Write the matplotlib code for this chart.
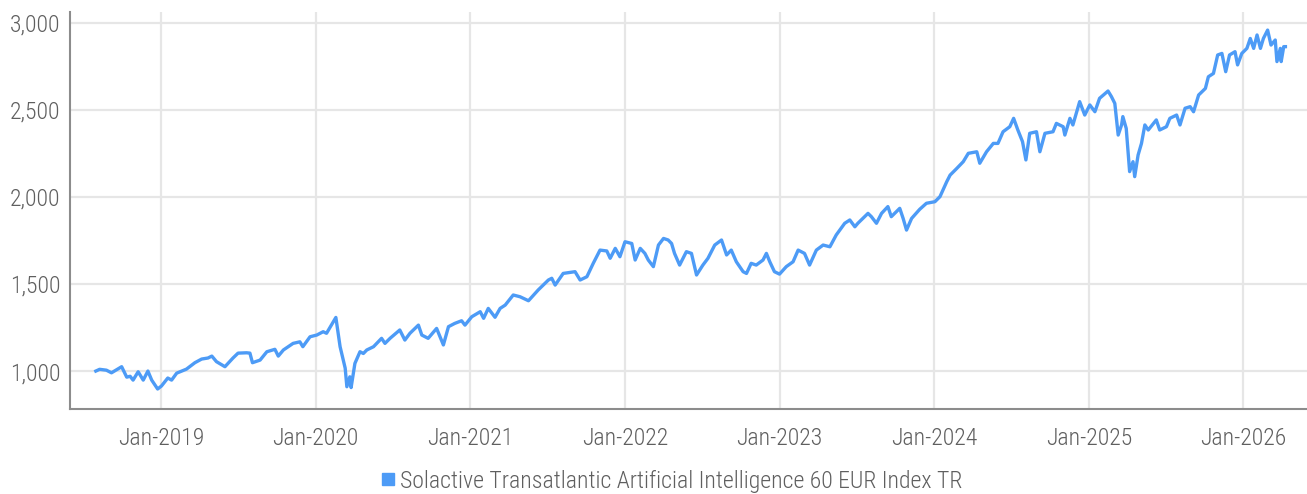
import matplotlib
matplotlib.use("Agg")
import matplotlib.pyplot as plt
from matplotlib.lines import Line2D
from matplotlib import font_manager
import pandas as pd

dates = [
    "2018-07-31", "2018-08-09", "2018-08-25", "2018-09-06", "2018-09-30", "2018-10-12",
    "2018-10-20", "2018-10-27", "2018-11-08", "2018-11-20", "2018-12-01", "2018-12-10",
    "2018-12-24", "2019-01-02", "2019-01-17", "2019-01-26", "2019-02-07", "2019-03-02",
    "2019-03-22", "2019-04-07", "2019-04-22", "2019-05-01", "2019-05-12", "2019-06-01",
    "2019-06-20", "2019-07-02", "2019-07-22", "2019-07-30", "2019-08-05", "2019-08-23",
    "2019-09-08", "2019-09-27", "2019-10-05", "2019-10-17", "2019-11-09", "2019-11-25",
    "2019-12-02", "2019-12-19", "2020-01-04", "2020-01-19", "2020-01-27", "2020-02-04",
    "2020-02-18", "2020-02-28", "2020-03-11", "2020-03-15", "2020-03-22", "2020-03-25",
    "2020-04-03", "2020-04-15", "2020-04-23", "2020-05-01", "2020-05-17", "2020-06-05",
    "2020-06-13", "2020-06-25", "2020-07-18", "2020-07-30", "2020-08-11", "2020-08-31",
    "2020-09-08", "2020-09-23", "2020-10-13", "2020-10-29", "2020-11-10", "2020-11-25",
    "2020-12-11", "2020-12-19", "2021-01-04", "2021-01-24", "2021-02-01", "2021-02-12",
    "2021-02-28", "2021-03-12", "2021-03-24", "2021-04-12", "2021-04-28", "2021-05-18",
    "2021-06-10", "2021-07-04", "2021-07-12", "2021-07-20", "2021-08-08", "2021-09-05",
    "2021-09-17", "2021-10-03", "2021-10-18", "2021-11-03", "2021-11-19", "2021-11-27",
    "2021-12-09", "2021-12-20", "2022-01-01", "2022-01-17", "2022-01-25", "2022-02-06",
    "2022-02-17", "2022-02-25", "2022-03-09", "2022-03-21", "2022-04-02", "2022-04-13",
    "2022-04-21", "2022-04-28", "2022-05-10", "2022-05-26", "2022-06-07", "2022-06-19",
    "2022-07-04", "2022-07-16", "2022-08-01", "2022-08-17", "2022-08-29", "2022-09-09",
    "2022-09-21", "2022-10-07", "2022-10-15", "2022-10-26", "2022-11-07", "2022-11-23",
    "2022-12-01", "2022-12-09", "2022-12-20", "2023-01-01", "2023-01-17", "2023-02-02",
    "2023-02-14", "2023-03-01", "2023-03-13", "2023-03-29", "2023-04-14", "2023-04-30",
    "2023-05-15", "2023-06-04", "2023-06-16", "2023-06-28", "2023-07-05", "2023-07-29",
    "2023-08-06", "2023-08-18", "2023-08-30", "2023-09-14", "2023-09-22", "2023-10-12",
    "2023-10-20", "2023-10-28", "2023-11-09", "2023-11-28", "2023-12-14", "2024-01-03",
    "2024-01-15", "2024-01-31", "2024-02-08", "2024-02-24", "2024-03-10", "2024-03-22",
    "2024-04-11", "2024-04-18", "2024-05-04", "2024-05-20", "2024-05-31", "2024-06-12",
    "2024-06-28", "2024-07-07", "2024-07-17", "2024-07-28", "2024-08-05", "2024-08-14",
    "2024-08-30", "2024-09-07", "2024-09-19", "2024-10-08", "2024-10-16", "2024-11-01",
    "2024-11-05", "2024-11-17", "2024-11-24", "2024-12-10", "2024-12-22", "2025-01-03",
    "2025-01-15", "2025-01-26", "2025-02-15", "2025-02-23", "2025-03-03", "2025-03-11",
    "2025-03-19", "2025-03-22", "2025-03-30", "2025-04-07", "2025-04-15", "2025-04-19",
    "2025-04-27", "2025-05-05", "2025-05-13", "2025-05-21", "2025-06-09", "2025-06-17",
    "2025-07-03", "2025-07-11", "2025-07-27", "2025-08-04", "2025-08-16", "2025-08-28",
    "2025-09-05", "2025-09-17", "2025-10-03", "2025-10-10", "2025-10-22", "2025-11-01",
    "2025-11-11", "2025-11-20", "2025-11-29", "2025-12-12", "2025-12-18", "2025-12-28",
    "2026-01-09", "2026-01-17", "2026-01-25", "2026-02-02", "2026-02-10", "2026-02-17",
    "2026-02-27", "2026-03-07", "2026-03-17", "2026-03-21", "2026-03-29", "2026-03-31",
    "2026-04-06", "2026-04-10",
]
values = [
    1000, 1010, 1005, 990, 1025, 965,
    970, 948, 996, 948, 1000, 948,
    897, 914, 960, 948, 988, 1011,
    1048, 1069, 1075, 1086, 1054, 1025,
    1075, 1103, 1105, 1103, 1048, 1063,
    1111, 1125, 1086, 1121, 1159, 1168,
    1140, 1197, 1207, 1226, 1217, 1250,
    1308, 1140, 1017, 910, 967, 905,
    1044, 1111, 1101, 1121, 1140, 1188,
    1159, 1188, 1236, 1178, 1217, 1264,
    1207, 1188, 1245, 1150, 1255, 1274,
    1289, 1264, 1312, 1341, 1303, 1360,
    1309, 1360, 1379, 1437, 1427, 1404,
    1466, 1523, 1533, 1494, 1561, 1571,
    1523, 1542, 1619, 1695, 1690, 1648,
    1705, 1657, 1743, 1733, 1638, 1705,
    1676, 1638, 1600, 1724, 1762, 1753,
    1733, 1676, 1609, 1686, 1676, 1552,
    1609, 1648, 1724, 1753, 1667, 1695,
    1628, 1571, 1561, 1619, 1609, 1638,
    1676, 1628, 1571, 1557, 1600, 1628,
    1695, 1676, 1609, 1695, 1724, 1714,
    1782, 1849, 1868, 1829, 1849, 1906,
    1887, 1849, 1906, 1945, 1887, 1935,
    1877, 1810, 1877, 1929, 1964, 1973,
    2002, 2088, 2126, 2165, 2203, 2251,
    2260, 2194, 2260, 2308, 2308, 2375,
    2404, 2452, 2385, 2318, 2213, 2366,
    2375, 2260, 2366, 2375, 2423, 2404,
    2356, 2452, 2414, 2548, 2471, 2529,
    2490, 2567, 2609, 2577, 2538, 2356,
    2414, 2462, 2394, 2146, 2203, 2117,
    2241, 2308, 2414, 2385, 2443, 2385,
    2404, 2452, 2471, 2414, 2510, 2519,
    2490, 2586, 2624, 2691, 2710, 2816,
    2825, 2720, 2816, 2835, 2759, 2825,
    2854, 2911, 2854, 2931, 2854, 2911,
    2959, 2873, 2902, 2778, 2854, 2778,
    2864, 2864,
]
series_name = "Solactive Transatlantic Artificial Intelligence 60 EUR Index TR"
y_ticks = [1000, 1500, 2000, 2500, 3000]
x_tick_years = [2019, 2020, 2021, 2022, 2023, 2024, 2025, 2026]

names = {f.name for f in font_manager.fontManager.ttflist}
fam = [f for f in ["Roboto Condensed", "Liberation Sans Narrow", "Roboto"] if f in names] + ["DejaVu Sans"]
plt.rcParams["font.family"] = fam
plt.rcParams["font.weight"] = "light"

line_color = "#4d9bf6"
text_color = "#5f5f5f"
grid_color = "#e6e6e6"
fs = 17.1

fig = plt.figure(figsize=(13.07, 4.94), dpi=100)
ax = fig.add_axes([70 / 1307, 1 - 409 / 494, 1 - 70 / 1307, (409 - 12) / 494])

x = pd.to_datetime(dates)
ax.plot(x, values, color=line_color, lw=2.4, solid_joinstyle="round", zorder=3)

ax.set_ylim(782, 3063)
ax.set_xlim(pd.Timestamp("2018-05-31"), pd.Timestamp("2026-05-31"))
ax.set_yticks(y_ticks)
ax.set_yticklabels([f"{v:,}" for v in y_ticks])
xt = [pd.Timestamp(f"{y}-01-01") for y in x_tick_years]
ax.set_xticks(xt)
ax.set_xticklabels([f"Jan-{y}" for y in x_tick_years])

ax.grid(True, color=grid_color, lw=1.6, zorder=0)
ax.set_axisbelow(True)
for s in ["top", "right"]:
    ax.spines[s].set_visible(False)
for s in ["left", "bottom"]:
    ax.spines[s].set_color("#8c8c8c")
    ax.spines[s].set_linewidth(1.5)
ax.tick_params(axis="both", length=0, labelsize=fs, colors=text_color)
ax.tick_params(axis="y", pad=7)
ax.tick_params(axis="x", pad=13)

handle = Line2D([], [], marker="s", color=line_color, linestyle="none", markersize=8)
fig.legend([handle], [series_name], loc="center", bbox_to_anchor=(670 / 1307, 1 - 481 / 494),
           frameon=False, fontsize=fs, handletextpad=0.1, handlelength=0.8,
           labelcolor=text_color)

fig.savefig("out.png", dpi=100)
